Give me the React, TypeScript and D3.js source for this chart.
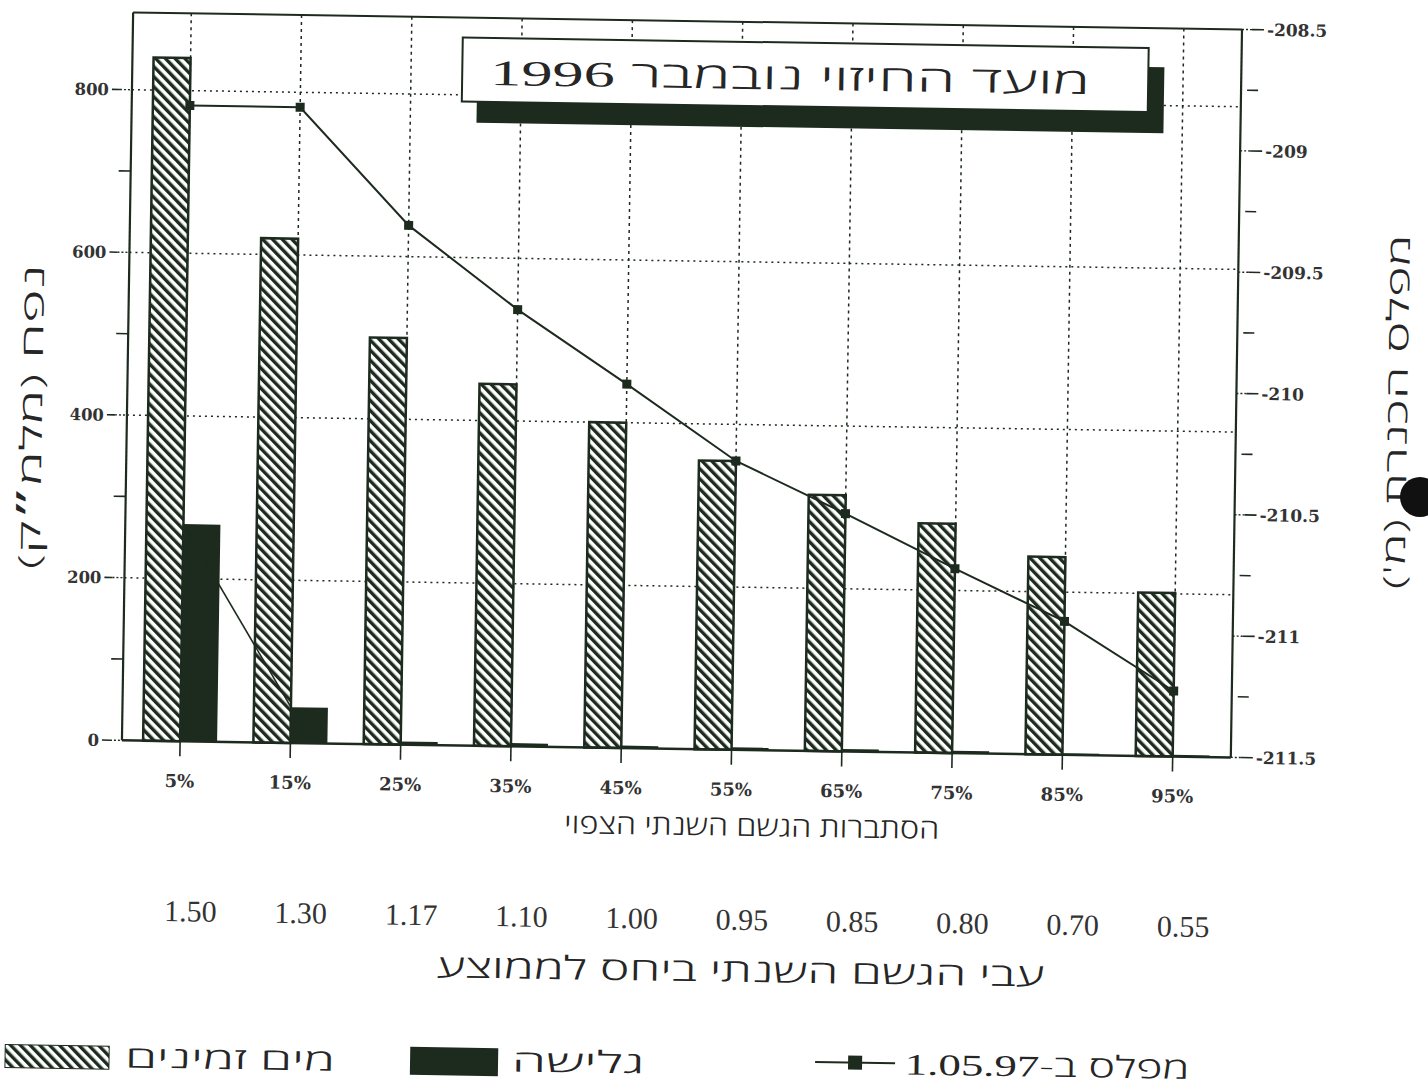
import React from 'react';
import * as d3 from 'd3';

// ---- data ----
const categories = ['5%', '15%', '25%', '35%', '45%', '55%', '65%', '75%', '85%', '95%'];
const ratioLabels = ['1.50', '1.30', '1.17', '1.10', '1.00', '0.95', '0.85', '0.80', '0.70', '0.55'];
const availableWater = [840, 620, 500, 445, 400, 355, 315, 282, 243, 201];
const spill = [267, 44, 4, 4, 3, 3, 3, 3, 2, 2];
const lakeLevel = [-208.88, -208.88, -209.36, -209.7, -210.0, -210.31, -210.52, -210.74, -210.95, -211.23];
const leftTicks = [0, 200, 400, 600, 800];
const leftMinorTicks = [100, 300, 500, 700];
const rightTicks = [-208.5, -209, -209.5, -210, -210.5, -211, -211.5];
const rightMinorTicks = [-208.75, -209.25, -209.75, -210.25, -210.75, -211.25];

const titleWords = 'מועד החיזוי נובמבר ';
const titleYear = '1996';
const xTitle = 'הסתברות הגשם השנתי הצפוי';
const ratioTitle = 'עבי הגשם  השנתי  ביחס לממוצע';
const leftTitle = 'נפח (מלמ״ק)';
const rightTitle = "מפלס הכנרת (מ')";
const legendWater = 'מים זמינים';
const legendSpill = 'גלישה';
const legendLevelWords = 'מפלס ב-';
const legendLevelDate = '1.05.97';

const INK = '#1d2a1e';
const HEB = "'Open Sans', 'Liberation Sans', 'DejaVu Sans', sans-serif";
const NUM = "'DejaVu Serif', 'Liberation Serif', serif";
const SERIF = "'Liberation Serif', serif";

export default function App() {
  const L = 125, R = 1234, T = 21, B = 749;
  const x = d3.scaleBand<string>().domain(categories).range([128, 1231]);
  const cx = (c: string) => (x(c) as number) + x.bandwidth() / 2;
  const yL = d3.scaleLinear().domain([0, 895]).range([B, T]);
  const yR = d3.scaleLinear().domain([-211.5, -208.5]).range([B, T]);
  const bw = 37;

  const levelLine = d3.line<number>().x((_, i) => cx(categories[i])).y((d) => yR(d))(lakeLevel) || '';
  const spillPts = spill.map((v, i) => ({ v, i }));
  const spillLine =
    d3
      .line<{ v: number; i: number }>()
      .defined((d) => d.v > 10)
      .x((d) => cx(categories[d.i]))
      .y((d) => yL(d.v))(spillPts) || '';

  const hebText = {
    fontFamily: HEB,
    fontWeight: 300,
    fill: '#262626',
  } as const;

  return (
    <svg width={1428} height={1092} style={{ position: 'absolute', left: 0, top: 0, background: '#fff' }}>
      <defs>
        <pattern id="hatch" patternUnits="userSpaceOnUse" width={7} height={7} patternTransform="rotate(-45)">
          <rect width={7} height={7} fill="#fff" />
          <rect x={0} y={0} width={3.4} height={7} fill={INK} />
        </pattern>
      </defs>
      <rect width={1428} height={1092} fill="#fff" />
      <g transform="rotate(0.88 686 546)">
        {/* grid */}
        {leftTicks.filter((t) => t > 0).map((t) => (
          <line key={'gh' + t} x1={L} x2={R} y1={yL(t)} y2={yL(t)} stroke={INK} strokeWidth={1.5} strokeDasharray="2 4" />
        ))}
        {categories.map((c) => (
          <line key={'gv' + c} x1={cx(c)} x2={cx(c)} y1={T} y2={B} stroke={INK} strokeWidth={1.5} strokeDasharray="3 4" />
        ))}

        {/* title box */}
        <rect x={470} y={60} width={687} height={66} fill={INK} />
        <rect x={455} y={41} width={686} height={64} fill="#fff" stroke={INK} strokeWidth={2} />
        <text x={783} y={88} {...hebText} fontSize={36} textAnchor="middle" direction="rtl" textLength={600} lengthAdjust="spacingAndGlyphs">
          <tspan>{titleWords}</tspan>
          <tspan fontFamily={SERIF} fontWeight={400}>{titleYear}</tspan>
        </text>

        {/* bars */}
        {categories.map((c, i) => (
          <rect key={'w' + c} x={cx(c) - bw} y={yL(availableWater[i])} width={bw} height={B - yL(availableWater[i])} fill="url(#hatch)" stroke={INK} strokeWidth={2.5} />
        ))}
        {categories.map((c, i) => (
          <rect key={'s' + c} x={cx(c)} y={yL(spill[i])} width={bw} height={B - yL(spill[i])} fill={INK} />
        ))}

        {/* lines */}
        <path d={spillLine} fill="none" stroke={INK} strokeWidth={1.6} />
        <path d={levelLine} fill="none" stroke={INK} strokeWidth={2} />
        {lakeLevel.map((v, i) => (
          <rect key={'m' + i} x={cx(categories[i]) - 4.5} y={yR(v) - 4.5} width={9} height={9} fill={INK} />
        ))}

        {/* frame */}
        <line x1={L} x2={R} y1={T} y2={T} stroke={INK} strokeWidth={2} />
        <line x1={L} x2={L} y1={T} y2={B} stroke={INK} strokeWidth={2.2} />
        <line x1={R} x2={R} y1={T} y2={B} stroke={INK} strokeWidth={2.2} />
        <line x1={L} x2={R} y1={B} y2={B} stroke={INK} strokeWidth={2.5} />

        {/* x ticks & labels */}
        {categories.map((c) => (
          <g key={'xt' + c}>
            <line x1={cx(c)} x2={cx(c)} y1={B} y2={B + 15} stroke={INK} strokeWidth={1.6} />
            <text x={cx(c)} y={795} textAnchor="middle" fontFamily={NUM} fontWeight="bold" fontSize={18} fill="#333">
              {c}
            </text>
          </g>
        ))}
        <text x={756} y={835} textAnchor="middle" direction="rtl" {...hebText} fontSize={28} textLength={375} lengthAdjust="spacingAndGlyphs">
          {xTitle}
        </text>

        {/* ratio row */}
        {categories.map((c, i) => (
          <text key={'r' + c} x={cx(c) + 13} y={929} textAnchor="middle" fontFamily={SERIF} fontSize={30} fill="#333">
            {ratioLabels[i]}
          </text>
        ))}
        <text x={747} y={981} textAnchor="middle" direction="rtl" {...hebText} fontSize={32} textLength={608} lengthAdjust="spacingAndGlyphs">
          {ratioTitle}
        </text>

        {/* left axis */}
        {leftTicks.map((t) => (
          <g key={'lt' + t}>
            <line x1={L - 20} x2={L - 12} y1={yL(t)} y2={yL(t)} stroke={INK} strokeWidth={1.6} />
            <line x1={L - 12} x2={L} y1={yL(t)} y2={yL(t)} stroke={INK} strokeWidth={1.4} strokeDasharray="2 2" />
            <text x={L - 23} y={yL(t)} dy="0.36em" textAnchor="end" fontFamily={NUM} fontWeight="bold" fontSize={16.5} fill="#333">
              {t}
            </text>
          </g>
        ))}
        {leftMinorTicks.map((t) => (
          <line key={'lm' + t} x1={L - 12} x2={L} y1={yL(t)} y2={yL(t)} stroke={INK} strokeWidth={1.6} />
        ))}
        <text transform="translate(40 427) rotate(-90)" textAnchor="middle" direction="rtl" {...hebText} fontSize={30} textLength={305} lengthAdjust="spacingAndGlyphs">
          {leftTitle}
        </text>

        {/* right axis */}
        {rightTicks.map((t) => (
          <g key={'rt' + t}>
            <line x1={R} x2={R + 10} y1={yR(t)} y2={yR(t)} stroke={INK} strokeWidth={1.4} strokeDasharray="2 2" />
            <line x1={R + 10} x2={R + 22} y1={yR(t)} y2={yR(t)} stroke={INK} strokeWidth={1.6} />
            <text x={R + 25} y={yR(t)} dy="0.36em" textAnchor="start" fontFamily={NUM} fontWeight="bold" fontSize={17} fill="#333">
              {String(t)}
            </text>
          </g>
        ))}
        {rightMinorTicks.map((t) => (
          <line key={'rm' + t} x1={R + 6} x2={R + 17} y1={yR(t)} y2={yR(t)} stroke={INK} strokeWidth={1.6} />
        ))}
        <text transform="translate(1405 401) rotate(-90)" textAnchor="middle" direction="rtl" {...hebText} fontSize={30} textLength={355} lengthAdjust="spacingAndGlyphs">
          {rightTitle}
        </text>

        {/* legend */}
        <rect x={13} y={1055} width={104} height={23} fill="url(#hatch)" stroke={INK} strokeWidth={1} />
        <text x={238} y={1076} textAnchor="middle" direction="rtl" {...hebText} fontSize={30} textLength={210} lengthAdjust="spacingAndGlyphs">
          {legendWater}
        </text>
        <rect x={418} y={1051} width={88} height={28} fill={INK} />
        <text x={586} y={1074} textAnchor="middle" direction="rtl" {...hebText} fontSize={30} textLength={133} lengthAdjust="spacingAndGlyphs">
          {legendSpill}
        </text>
        <line x1={823} x2={903} y1={1060} y2={1060} stroke={INK} strokeWidth={2} />
        <rect x={856} y={1053} width={14} height={14} fill={INK} />
        <text x={1055} y={1071} textAnchor="middle" direction="rtl" {...hebText} fontSize={30} textLength={285} lengthAdjust="spacingAndGlyphs">
          <tspan>{legendLevelWords}</tspan>
          <tspan fontFamily={SERIF} fontWeight={400}>{legendLevelDate}</tspan>
        </text>
      </g>
      <circle cx={1420} cy={497} r={20} fill="#111" />
    </svg>
  );
}
